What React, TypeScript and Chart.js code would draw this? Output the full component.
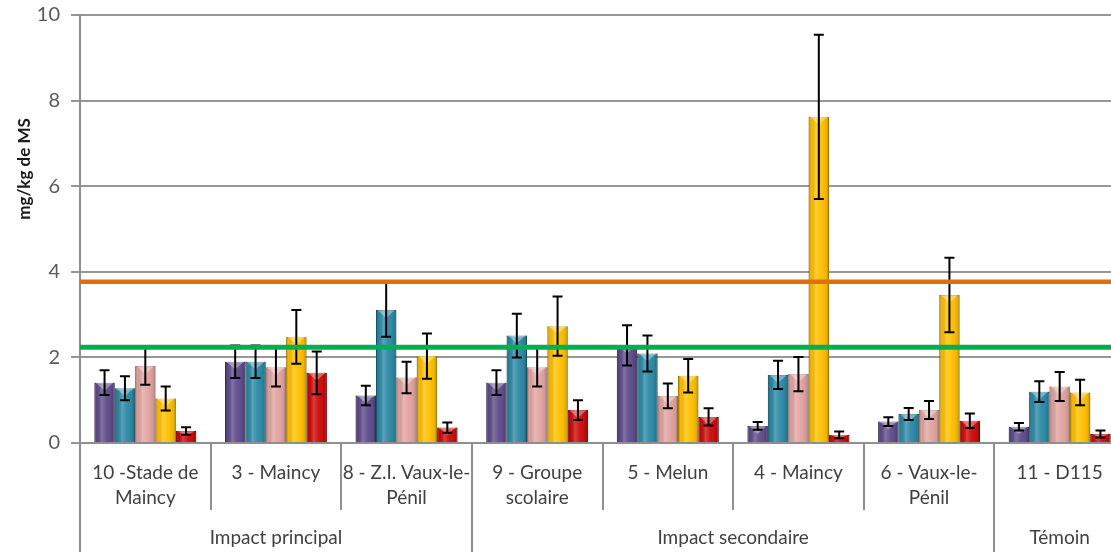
import React, { useEffect, useRef } from "react";
import { Chart, registerables } from "chart.js";

Chart.register(...registerables);

// ---- Data ----
const categories: string[][] = [
  ["10 -Stade de", "Maincy"],
  ["3 - Maincy"],
  ["8 - Z.I. Vaux-le-", "Pénil"],
  ["9 - Groupe", "scolaire"],
  ["5 - Melun"],
  ["4 - Maincy"],
  ["6 - Vaux-le-", "Pénil"],
  ["11 - D115"],
];

const groupLabels = ["Impact principal", "Impact secondaire", "Témoin"];
const groupStarts = [0, 3, 7];
const groupEnds = [2, 6, 7];

const seriesNames = ["Série 1", "Série 2", "Série 3", "Série 4", "Série 5"];

const purpleValues = [1.41, 1.9, 1.11, 1.41, 2.28, 0.4, 0.5, 0.38];
const purpleErrors = [0.29, 0.38, 0.23, 0.29, 0.47, 0.09, 0.1, 0.09];

const tealValues = [1.28, 1.9, 3.11, 2.51, 2.09, 1.59, 0.68, 1.2];
const tealErrors = [0.28, 0.38, 0.63, 0.51, 0.42, 0.33, 0.14, 0.24];

const pinkValues = [1.8, 1.77, 1.53, 1.77, 1.1, 1.61, 0.77, 1.32];
const pinkErrors = [0.44, 0.45, 0.37, 0.45, 0.29, 0.4, 0.21, 0.34];

const yellowValues = [1.04, 2.48, 2.03, 2.73, 1.57, 7.62, 3.46, 1.18];
const yellowErrors = [0.28, 0.63, 0.53, 0.69, 0.39, 1.92, 0.87, 0.3];

const redValues = [0.28, 1.64, 0.36, 0.77, 0.61, 0.19, 0.52, 0.21];
const redErrors = [0.09, 0.5, 0.12, 0.23, 0.2, 0.08, 0.17, 0.08];

const yMin = 0;
const yMax = 10;
const yStep = 2;

const orangeThreshold = 3.77;
const greenThreshold = 2.24;

const yAxisTitle = "mg/kg de MS";

// ---- Styles ----
const seriesColors = ["#5f4b8b", "#2c89a6", "#e2a4a1", "#ffc000", "#cc0a0a"];
const seriesBorders = ["#4a3a70", "#216d85", "#c98a87", "#d9a200", "#a00000"];
const FONT = "Lato, 'Open Sans', sans-serif";
const LINE_GRAY = "#8f8f8f";

const decorPlugin = {
  id: "decor",
  afterDatasetsDraw(chart: any) {
    const ctx = chart.ctx as CanvasRenderingContext2D;
    const yScale = chart.scales.y;
    const { left, right } = chart.chartArea;

    // 3D-like shading on bars
    chart.data.datasets.forEach((ds: any, di: number) => {
      const meta = chart.getDatasetMeta(di);
      meta.data.forEach((bar: any) => {
        const { x, y, base, width } = bar.getProps(["x", "y", "base", "width"], true);
        const l = x - width / 2;
        const r = x + width / 2;
        const h = base - y;
        if (h <= 0) return;
        ctx.save();
        const g = ctx.createLinearGradient(l, 0, r, 0);
        g.addColorStop(0, "rgba(0,0,0,0.30)");
        g.addColorStop(0.12, "rgba(0,0,0,0.04)");
        g.addColorStop(0.35, "rgba(255,255,255,0.22)");
        g.addColorStop(0.6, "rgba(255,255,255,0.04)");
        g.addColorStop(0.88, "rgba(0,0,0,0.08)");
        g.addColorStop(1, "rgba(0,0,0,0.32)");
        ctx.fillStyle = g;
        ctx.fillRect(l, y, width, h);
        const th = Math.min(8, h / 2);
        ctx.beginPath();
        ctx.moveTo(l + 1.5, y);
        ctx.lineTo(r - 1.5, y);
        ctx.lineTo(x, y + th);
        ctx.closePath();
        ctx.fillStyle = "rgba(255,255,255,0.35)";
        ctx.fill();
        ctx.restore();
      });
    });

    // error bars
    ctx.save();
    ctx.strokeStyle = "#000";
    ctx.lineWidth = 2;
    chart.data.datasets.forEach((ds: any, di: number) => {
      const meta = chart.getDatasetMeta(di);
      meta.data.forEach((bar: any, i: number) => {
        const v = ds.data[i];
        const e = ds.errors[i];
        const x = bar.x;
        const yt = yScale.getPixelForValue(v + e);
        const yb = yScale.getPixelForValue(v - e);
        ctx.beginPath();
        ctx.moveTo(x, yt);
        ctx.lineTo(x, yb);
        ctx.moveTo(x - 5, yt);
        ctx.lineTo(x + 5, yt);
        ctx.moveTo(x - 5, yb);
        ctx.lineTo(x + 5, yb);
        ctx.stroke();
      });
    });
    ctx.restore();

    // threshold lines
    ctx.save();
    const yo = yScale.getPixelForValue(orangeThreshold);
    ctx.strokeStyle = "#e46c0a";
    ctx.lineWidth = 4.5;
    ctx.beginPath();
    ctx.moveTo(left, yo);
    ctx.lineTo(right, yo);
    ctx.stroke();
    const yg = yScale.getPixelForValue(greenThreshold);
    ctx.strokeStyle = "#00b050";
    ctx.lineWidth = 5;
    ctx.beginPath();
    ctx.moveTo(left, yg);
    ctx.lineTo(right, yg);
    ctx.stroke();
    ctx.restore();
  },
  afterDraw(chart: any) {
    const ctx = chart.ctx as CanvasRenderingContext2D;
    const xScale = chart.scales.x;
    const { bottom } = chart.chartArea;
    const H = chart.height;
    const catW = xScale.getPixelForValue(1) - xScale.getPixelForValue(0);
    const boundary = (i: number) => xScale.getPixelForValue(0) - catW / 2 + i * catW;
    const groupEdges = new Set<number>();
    groupStarts.forEach((s) => groupEdges.add(s));
    groupEnds.forEach((e) => groupEdges.add(e + 1));

    ctx.save();
    ctx.strokeStyle = LINE_GRAY;
    ctx.lineWidth = 2;
    for (let i = 0; i <= categories.length; i++) {
      const bx = Math.round(boundary(i));
      const end = groupEdges.has(i) ? H : bottom + 67;
      ctx.beginPath();
      ctx.moveTo(bx, bottom);
      ctx.lineTo(bx, end);
      ctx.stroke();
    }

    // group labels
    ctx.fillStyle = "#404040";
    ctx.font = `19px ${FONT}`;
    ctx.textAlign = "center";
    ctx.textBaseline = "middle";
    groupLabels.forEach((lab, gi) => {
      const cx = (boundary(groupStarts[gi]) + boundary(groupEnds[gi] + 1)) / 2;
      ctx.fillText(lab, cx, 538);
    });

    // y axis title
    ctx.translate(25, 169);
    ctx.rotate(-Math.PI / 2);
    ctx.fillStyle = "#1a1a1a";
    ctx.font = `bold 17px ${FONT}`;
    ctx.fillText(yAxisTitle, 0, 0);
    ctx.restore();
  },
};

export default function App() {
  const canvasRef = useRef<HTMLCanvasElement | null>(null);

  useEffect(() => {
    if (!canvasRef.current) return;
    const valueSets = [purpleValues, tealValues, pinkValues, yellowValues, redValues];
    const errorSets = [purpleErrors, tealErrors, pinkErrors, yellowErrors, redErrors];
    const chart = new Chart(canvasRef.current, {
      type: "bar",
      data: {
        labels: categories,
        datasets: valueSets.map((vals, i) => ({
          label: seriesNames[i],
          data: vals,
          errors: errorSets[i],
          backgroundColor: seriesColors[i],
          borderColor: seriesBorders[i],
          borderWidth: 1,
          categoryPercentage: 0.78,
          barPercentage: 1.0,
        })) as any,
      },
      options: {
        responsive: false,
        animation: false,
        layout: { padding: { top: 15, left: 0, right: 0, bottom: 0 } },
        plugins: {
          legend: { display: false },
          tooltip: { enabled: false },
          title: { display: false },
        },
        scales: {
          x: {
            grid: { display: false },
            border: { display: true, color: LINE_GRAY, width: 2 },
            ticks: {
              color: "#404040",
              font: { family: FONT, size: 19, lineHeight: 25 / 19 },
              padding: 9,
              maxRotation: 0,
              autoSkip: false,
            },
            afterFit: (scale: any) => {
              scale.height = 109;
            },
          },
          y: {
            min: yMin,
            max: yMax,
            grid: { color: "#979797", lineWidth: 2, tickLength: 9 },
            border: { display: true, color: LINE_GRAY, width: 2 },
            ticks: {
              stepSize: yStep,
              color: "#595959",
              font: { family: FONT, size: 20 },
              padding: 11,
            },
            afterFit: (scale: any) => {
              scale.width = 80;
              scale.paddingTop = 0;
              scale.paddingBottom = 0;
            },
          },
        },
      },
      plugins: [decorPlugin],
    });
    return () => chart.destroy();
  }, []);

  return (
    <div
      style={{
        position: "fixed",
        left: 0,
        top: 0,
        width: 1111,
        height: 552,
        overflow: "hidden",
        background: "#fff",
      }}
    >
      <canvas ref={canvasRef} width={1125} height={552} style={{ display: "block" }} />
    </div>
  );
}
